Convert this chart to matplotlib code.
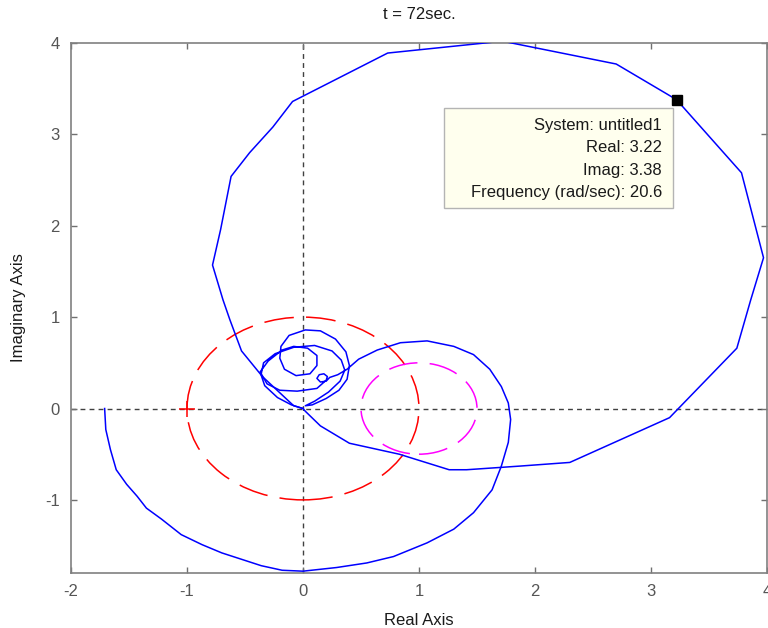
import matplotlib
matplotlib.use("Agg")
import matplotlib.pyplot as plt
from matplotlib.patches import Circle, Rectangle

plt.rcParams['font.family'] = ['Liberation Sans', 'DejaVu Sans']
plt.rcParams['axes.unicode_minus'] = False

# ---- data ----
# inner branch: big lower arc, then loops spiralling into the origin
inner_re = [-1.71, -1.70, -1.66, -1.61, -1.52, -1.43, -1.35, -1.22, -1.05, -0.87, -0.70, -0.53,
            -0.36, -0.18, 0.00, 0.29, 0.55, 0.78, 1.07, 1.30, 1.47, 1.63, 1.71, 1.77, 1.79,
            1.77, 1.71, 1.61, 1.47, 1.30, 1.07, 0.84, 0.64, 0.48, 0.38,
            0.30, 0.23,
            0.20, 0.15, 0.12, 0.14, 0.18, 0.21, 0.20,
            0.12, -0.05, -0.20, -0.31, -0.36, -0.34, -0.24, -0.08, 0.10, 0.25, 0.33, 0.36, 0.32, 0.22, 0.10, 0.02,
            0.08, 0.20, 0.31, 0.38, 0.40, 0.37, 0.28, 0.15, 0.02, -0.12, -0.19,
            -0.20, -0.16, -0.06, 0.06, 0.12, 0.12, 0.04, -0.08, -0.18,
            -0.30, -0.37, -0.33, -0.22, -0.10, 0.00]
inner_im = [0.00, -0.23, -0.45, -0.67, -0.83, -0.96, -1.09, -1.21, -1.38, -1.49, -1.58, -1.65,
            -1.72, -1.77, -1.78, -1.74, -1.69, -1.62, -1.47, -1.32, -1.14, -0.89, -0.63, -0.37, -0.12,
            0.06, 0.24, 0.43, 0.59, 0.68, 0.74, 0.72, 0.64, 0.54, 0.43,
            0.37, 0.34,
            0.30, 0.29, 0.33, 0.37, 0.38, 0.35, 0.31,
            0.22, 0.19, 0.20, 0.27, 0.38, 0.50, 0.60, 0.67, 0.69, 0.63, 0.53, 0.42, 0.30, 0.18, 0.08, 0.03,
            0.04, 0.11, 0.20, 0.32, 0.47, 0.62, 0.76, 0.85, 0.86, 0.80, 0.68,
            0.55, 0.43, 0.36, 0.38, 0.47, 0.58, 0.66, 0.68, 0.64,
            0.52, 0.40, 0.25, 0.12, 0.04, 0.00]

# outer branch: large loop starting and ending at the origin
outer_re = [0.00, -0.08, -0.35, -0.53, -0.63, -0.69, -0.78, -0.71, -0.62, -0.46, -0.26, -0.09,
            0.73, 1.72, 2.70, 3.22, 3.78, 3.97, 3.86, 3.74, 3.16, 2.30, 1.87, 1.41, 1.26,
            0.83, 0.40, 0.15, 0.02, 0.00]
outer_im = [0.00, 0.03, 0.35, 0.63, 0.97, 1.19, 1.57, 1.96, 2.54, 2.80, 3.08, 3.36,
            3.89, 4.02, 3.77, 3.38, 2.58, 1.65, 1.19, 0.66, -0.10, -0.59, -0.63, -0.67, -0.67,
            -0.50, -0.38, -0.19, -0.03, 0.00]

unit_center, unit_radius = (0.0, 0.0), 1.0
mag_center, mag_radius = (1.0, 0.0), 0.5
critical_point = (-1.0, 0.0)

tip_system = "untitled1"
tip_real = 3.22
tip_imag = 3.38
tip_freq = 20.6

title_text = "t = 72sec."
xlabel_text = "Real Axis"
ylabel_text = "Imaginary Axis"
x_ticks = [-2, -1, 0, 1, 2, 3, 4]
y_ticks = [-1, 0, 1, 2, 3, 4]
x_lim = (-2, 4)
y_lim = (-1.8, 4)

# ---- figure ----
fig = plt.figure(figsize=(7.68, 6.28), dpi=100)
ax = fig.add_axes([71/768, 1 - 573/628, 696/768, 530/628])

ax.set_xlim(*x_lim)
ax.set_ylim(*y_lim)

# reference axes lines
ax.axvline(0, color='#404040', lw=1.0, ls=(0, (3.5, 3)), zorder=1)
ax.axhline(0, color='#404040', lw=1.0, ls=(0, (3.5, 3)), zorder=1)

# red unit circle + critical point
ax.add_patch(Circle(unit_center, unit_radius, fill=False, ec='#ff0000', lw=1.1,
                    ls=(0, (19.5, 8)), zorder=2))
ax.plot([critical_point[0]], [critical_point[1]], marker='+', color='#ff0000',
        ms=11, mew=1.1, ls='none', zorder=3)

# magenta circle
ax.add_patch(Circle(mag_center, mag_radius, fill=False, ec='#ff00ff', lw=1.1,
                    ls=(0, (19, 8)), zorder=2))

# blue Nyquist curves
ax.plot(inner_re, inner_im, color='#0000ff', lw=1.1, zorder=4)
ax.plot(outer_re, outer_im, color='#0000ff', lw=1.1, zorder=4)

# data tip marker
ax.plot([tip_real], [tip_imag], marker='s', color='black', ms=7, ls='none', zorder=6)

# data tip box
ax.add_patch(Rectangle((0.536, 0.689), 0.329, 0.188, transform=ax.transAxes,
                       facecolor='#ffffee', edgecolor='#b4b4b4', lw=1.0, zorder=7))
tip_lines = [f"System: {tip_system}", f"Real: {tip_real:.2f}",
             f"Imag: {tip_imag:.2f}", f"Frequency (rad/sec): {tip_freq:.1f}"]
for txt, yy in zip(tip_lines, [0.845, 0.803, 0.760, 0.718]):
    ax.text(0.849, yy, txt, transform=ax.transAxes, ha='right', va='center',
            fontsize=12, color='#1a1a1a', zorder=8)

# ticks / spines
ax.set_xticks(x_ticks)
ax.set_yticks(y_ticks)
ax.tick_params(direction='in', length=4.5, width=1.0, colors='#707070',
               labelcolor='#555555', labelsize=12, top=True, right=True, pad=8)
for sp in ax.spines.values():
    sp.set_color('#808080')
    sp.set_linewidth(1.2)

ax.set_title(title_text, fontsize=12, pad=17, color='#1a1a1a')
ax.set_xlabel(xlabel_text, fontsize=12, labelpad=10, color='#1a1a1a')
ax.set_ylabel(ylabel_text, fontsize=12, labelpad=14, color='#1a1a1a')

fig.savefig('out.png', dpi=100)
